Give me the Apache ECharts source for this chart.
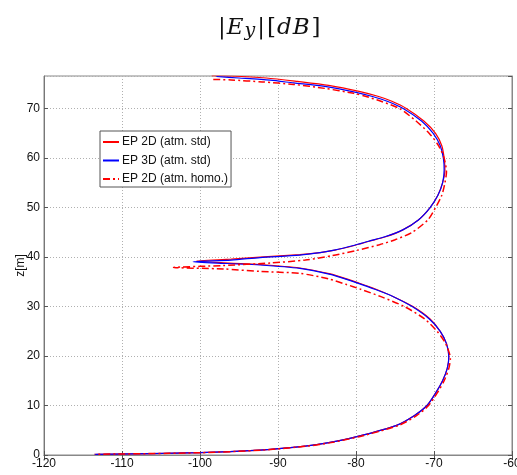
<!DOCTYPE html>
<html>
<head>
<meta charset="utf-8">
<script src="https://cdn.jsdelivr.net/npm/echarts@6/dist/echarts.min.js"></script>
<style>html,body{margin:0;padding:0;background:#fff}#c{width:517px;height:475px}</style>
</head>
<body>
<div id="c"></div>
<script>
// Axis ticks
const xTicks = [-120, -110, -100, -90, -80, -70, -60];
const zTicks = [0, 10, 20, 30, 40, 50, 60, 70];

// EP 2D (atm. std)
const ep2dStdZ = [76.65, 76.6, 76.2, 75.5, 74.7, 73.5, 72.5, 71.5, 70, 67.5, 65, 62.5, 60, 57.6, 55, 52.5, 50, 47.5, 45.5, 44.1, 43.2, 42.4, 41.4, 40.9, 40.5, 40.0, 39.6, 39.2, 38.8, 38.5, 37.8, 36.6, 35.6, 34.8, 33.6, 32, 30, 27.5, 25, 22.5, 19.8, 17.5, 15, 12.5, 10, 8, 6, 3.7, 2.5, 1.8, 1.0, 0.46, 0.14];
const ep2dStdX = [-98.5, -96, -91.5, -87.5, -83.5, -79.6, -77.2, -75.4, -73.5, -71.3, -69.8, -69.0, -68.7, -68.6, -68.9, -69.5, -70.5, -72.0, -74.0, -76.2, -78.3, -80.1, -82.7, -84.6, -87.2, -92.3, -96, -100.5, -96.3, -92.3, -87.2, -83.3, -81.2, -79.7, -77.6, -75.2, -72.7, -70.5, -69.2, -68.4, -68.1, -68.3, -68.9, -69.8, -70.9, -72.5, -74.8, -79.9, -83.5, -86.5, -92.3, -100, -113.3];

// EP 3D (atm. std)
const ep3dStdZ = [76.5, 76.2, 75.75, 75.2, 74.5, 73.3, 72.5, 71.5, 70, 67.5, 65, 62.5, 60, 57.6, 55, 52.5, 50, 47.5, 45.5, 44.1, 43.2, 42.4, 41.4, 40.9, 40.4, 39.9, 39.4, 39.05, 38.7, 38.4, 37.7, 36.5, 35.5, 34.7, 33.5, 32, 30, 27.5, 25, 22.5, 19.9, 17.5, 15, 12.5, 10, 8, 6, 3.7, 2.5, 1.8, 1.0, 0.46, 0.14];
const ep3dStdX = [-97.9, -95, -91, -88, -84, -80, -78, -76, -73.9, -71.6, -70.1, -69.2, -68.8, -68.7, -68.9, -69.5, -70.5, -72.0, -74.0, -76.3, -78.4, -80.2, -82.8, -84.6, -87.2, -92.3, -96, -100.9, -96.5, -92.3, -87.2, -83.3, -81.2, -79.7, -77.6, -75.2, -72.8, -70.6, -69.2, -68.4, -68.1, -68.3, -68.9, -69.8, -70.9, -72.5, -74.8, -79.9, -83.5, -86.5, -92.3, -100, -113.5];

// EP 2D (atm. homo.)
const ep2dHomoZ = [75.9, 75.8, 75.4, 74.9, 74.1, 73.1, 72.5, 71.5, 70, 67.5, 65, 62.5, 60, 57.2, 55, 52.5, 50, 47.5, 45, 43.5, 42.5, 41.4, 40.3, 39.4, 38.8, 38.3, 37.9, 37.6, 37.1, 36.7, 35.6, 34.5, 33.5, 32, 30, 27.5, 25, 22.5, 19.5, 17.5, 15, 12.5, 10, 8, 6, 3.7, 2.5, 1.8, 1.0, 0.46, 0.14];
const ep2dHomoX = [-98.3, -96, -92, -88, -84, -80.3, -78.8, -76.8, -74.4, -72.3, -70.6, -69.4, -68.7, -68.4, -68.6, -69, -69.8, -70.8, -72.8, -75, -77, -79.8, -83, -86.5, -91, -97, -103.4, -97, -92.3, -87.2, -83.5, -81.3, -79.4, -76.8, -73.8, -71.2, -69.6, -68.5, -67.9, -68.1, -68.7, -69.6, -70.7, -72.2, -74.5, -79.6, -83.2, -86.2, -92, -100, -113.5];

const seriesNames = ['EP 2D (atm. std)', 'EP 3D (atm. std)', 'EP 2D (atm. homo.)'];

const pairs = (xs, zs) => xs.map((x, i) => [x, zs[i]]);
const chart = echarts.init(document.getElementById('c'), null, {renderer: 'canvas'});
const font = 'Liberation Sans, Arial, sans-serif';
const gridLine = {show: true, lineStyle: {color: '#b0b0b0', type: [1, 2], width: 1}};
const tf = {fontFamily: 'DejaVu Serif', fontWeight: 'normal', color: '#111', lineHeight: 30};
chart.setOption({
  animation: false,
  backgroundColor: '#fff',
  title: {
    text: '{b||}{i|E}{s|y}{b||}{b|[}{i|d}{i|B}{b|]}',
    left: 212, top: 8,
    textStyle: {
      fontWeight: 'normal',
      rich: {
        b: Object.assign({}, tf, {fontSize: 23, padding: [0, 1, 0, 1]}),
        i: Object.assign({}, tf, {fontSize: 23, fontStyle: 'italic', padding: [0, 1, 0, 0]}),
        s: Object.assign({}, tf, {fontSize: 19, fontStyle: 'italic', padding: [6, 1, 0, 0]})
      }
    }
  },
  legend: {
    data: seriesNames,
    orient: 'vertical',
    left: 100, top: 131,
    itemWidth: 16, itemHeight: 14, itemGap: 6.5,
    padding: [5, 3, 2, 2],
    backgroundColor: '#fff',
    borderColor: '#555', borderWidth: 1, borderRadius: 0,
    itemStyle: {opacity: 0},
    textStyle: {fontFamily: font, fontSize: 12, color: '#111', padding: [0, 0, 0, -2]}
  },
  grid: {left: 44, right: 5, top: 76, bottom: 20, show: true, borderColor: '#888', borderWidth: 1, outerBoundsMode: 'none', containLabel: false},
  xAxis: [{
    type: 'value', min: xTicks[0], max: xTicks[xTicks.length - 1], interval: 10,
    axisLine: {lineStyle: {color: '#777'}},
    axisTick: {inside: true, length: 4, lineStyle: {color: '#555'}},
    axisLabel: {fontFamily: font, fontSize: 12, color: '#111', margin: 3},
    splitLine: gridLine
  }, {
    type: 'value', position: 'top', min: xTicks[0], max: xTicks[xTicks.length - 1], interval: 10,
    axisLine: {show: true, lineStyle: {color: '#888'}},
    axisTick: {show: true, inside: true, length: 4, lineStyle: {color: '#555'}},
    axisLabel: {show: false}, splitLine: {show: false}
  }],
  yAxis: [{
    type: 'value', min: zTicks[0], max: 76.6, interval: 10,
    name: 'z[m]', nameLocation: 'middle', nameGap: 17, nameMoveOverlap: false,
    nameTextStyle: {fontFamily: font, fontSize: 12, color: '#111'},
    axisLine: {show: true, lineStyle: {color: '#777'}},
    axisTick: {show: true, inside: true, length: 4, lineStyle: {color: '#555'}},
    axisLabel: {fontFamily: font, fontSize: 12, color: '#111', margin: 4, showMaxLabel: false,
      formatter: v => (zTicks.indexOf(v) >= 0 ? String(v) : '')},
    splitLine: gridLine
  }, {
    type: 'value', position: 'right', min: zTicks[0], max: 76.6, interval: 10,
    axisLine: {show: true, lineStyle: {color: '#888'}},
    axisTick: {show: true, inside: true, length: 4, lineStyle: {color: '#555'}},
    axisLabel: {show: false}, splitLine: {show: false}
  }],
  series: [
    {name: seriesNames[0], type: 'line', data: pairs(ep2dStdX, ep2dStdZ), symbol: 'none', smooth: 0.25,
      lineStyle: {color: '#ff0000', width: 1.2}, itemStyle: {color: '#ff0000'}},
    {name: seriesNames[1], type: 'line', data: pairs(ep3dStdX, ep3dStdZ), symbol: 'none', smooth: 0.25,
      lineStyle: {color: '#0000ff', width: 1.2}, itemStyle: {color: '#0000ff'}},
    {name: seriesNames[2], type: 'line', data: pairs(ep2dHomoX, ep2dHomoZ), symbol: 'none', smooth: 0.25,
      lineStyle: {color: '#ff0000', width: 1.5, type: [7, 3, 2, 3]}, itemStyle: {color: '#ff0000'}}
  ]
});
</script>
</body>
</html>
